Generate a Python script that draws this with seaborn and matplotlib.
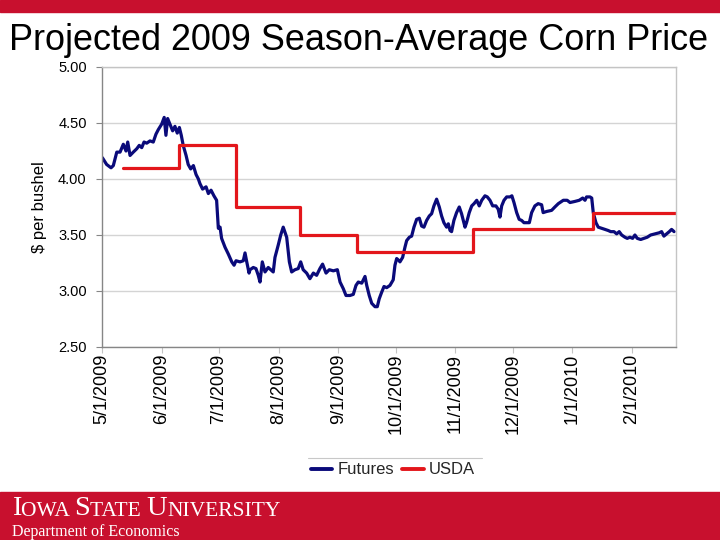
import matplotlib
matplotlib.use("Agg")
import matplotlib.pyplot as plt
import matplotlib.dates as mdates
from matplotlib.lines import Line2D
from matplotlib.patches import Rectangle
from matplotlib.ticker import FuncFormatter, MultipleLocator
import seaborn as sns
import numpy as np
import pandas as pd

# futures: days after 5/1/2009 and price ($/bu)
fut_days = [0.2, 2.4, 4.7, 5.9, 7.7, 9.4, 11.1, 12.5, 13.4, 14.6, 16.3, 18.1, 19.4, 20.7,
            21.9, 23.3, 25.0, 26.7, 28.1, 29.3, 31.1, 32.4, 33.3, 34.2, 35.4, 36.8, 38.0,
            39.2, 40.3, 41.3, 42.3, 43.8, 44.9, 46.2, 47.6, 49.0, 50.2, 51.0, 52.4, 54.2,
            55.4, 56.8, 58.3, 59.7, 60.6, 61.5, 62.3, 64.1, 65.8, 67.6, 68.8, 69.8, 71.9,
            73.6, 74.5, 75.4, 76.6, 77.1, 78.8, 80.2, 81.4, 82.3, 83.5, 84.9, 86.6, 87.9,
            89.2, 90.1, 91.8, 93.1, 94.4, 96.2, 97.6, 98.8, 100.5, 102.2, 103.5, 104.8,
            106.6, 108.3, 110.1, 111.8, 113.5, 114.9, 116.7, 118.4, 120.5, 122.6, 124.0,
            125.7, 127.1, 129.2, 130.9, 132.3, 133.5, 135.3, 137.0, 137.9, 139.2, 140.5,
            142.2, 143.4, 144.4, 145.7, 146.9, 148.3, 150.0, 151.7, 152.6, 153.5, 154.8,
            155.2, 156.6, 157.8, 158.7, 160.1, 161.3, 162.5, 163.9, 165.3, 166.5, 167.7,
            169.1, 170.5, 171.7, 172.9, 174.3, 175.7, 176.9, 178.1, 179.5, 180.4, 181.3,
            182.1, 183.3, 184.7, 186.1, 187.3, 188.2, 189.1, 189.9, 191.3, 192.6, 193.8,
            195.2, 196.5, 197.8, 199.5, 200.7, 202.1, 203.5, 205.2, 206.4, 207.3, 208.2,
            209.4, 210.8, 212.5, 213.5, 214.6, 216.0, 217.3, 218.6, 219.8, 221.2, 222.6,
            223.8, 225.5, 227.2, 229.0, 229.8, 231.6, 234.2, 235.9, 237.7, 240.3, 242.3,
            243.8, 246.4, 248.6, 250.4, 251.6, 252.4, 254.2, 255.1, 255.9, 257.3, 258.5,
            260.3, 262.0, 263.7, 265.0, 266.7, 268.1, 269.4, 270.7, 272.4, 273.6, 275.0,
            276.4, 277.6, 278.8, 280.6, 282.3, 284.0, 285.8, 288.0, 290.3, 291.5, 292.7,
            294.1, 295.5, 296.7, 298.0]
fut_price = [4.19, 4.13, 4.10, 4.12, 4.24, 4.24, 4.31, 4.25, 4.33, 4.21, 4.24, 4.27, 4.30, 4.28,
             4.33, 4.32, 4.34, 4.33, 4.40, 4.44, 4.49, 4.55, 4.39, 4.54, 4.49, 4.43, 4.47,
             4.41, 4.46, 4.39, 4.30, 4.21, 4.13, 4.09, 4.12, 4.04, 4.00, 3.96, 3.91, 3.93,
             3.87, 3.90, 3.85, 3.81, 3.56, 3.57, 3.47, 3.39, 3.33, 3.26, 3.23, 3.27, 3.26,
             3.27, 3.34, 3.26, 3.16, 3.19, 3.21, 3.20, 3.14, 3.08, 3.26, 3.17, 3.21, 3.19,
             3.17, 3.30, 3.41, 3.50, 3.57, 3.48, 3.26, 3.17, 3.19, 3.20, 3.26, 3.19,
             3.16, 3.11, 3.16, 3.14, 3.20, 3.24, 3.16, 3.19, 3.18, 3.19, 3.08,
             3.02, 2.96, 2.96, 2.97, 3.05, 3.08, 3.07, 3.13, 3.05, 2.96, 2.89,
             2.86, 2.86, 2.93, 2.99, 3.04, 3.03, 3.05, 3.10, 3.23, 3.29, 3.27,
             3.26, 3.30, 3.39, 3.45, 3.48, 3.49, 3.57, 3.64, 3.65, 3.58, 3.57,
             3.63, 3.67, 3.69, 3.76, 3.82, 3.75, 3.67, 3.61, 3.57, 3.60, 3.54,
             3.53, 3.63, 3.70, 3.75, 3.69, 3.63, 3.57, 3.61, 3.70, 3.76, 3.78,
             3.81, 3.76, 3.81, 3.85, 3.84, 3.81, 3.76, 3.76, 3.73, 3.66, 3.76,
             3.81, 3.84, 3.84, 3.85, 3.79, 3.70, 3.64, 3.63, 3.61, 3.61, 3.61,
             3.70, 3.76, 3.78, 3.77, 3.70, 3.71, 3.72, 3.75, 3.78, 3.81, 3.81,
             3.79, 3.80, 3.81, 3.83, 3.81, 3.84, 3.84, 3.83, 3.70, 3.61, 3.57,
             3.56, 3.55, 3.54, 3.53, 3.53, 3.51, 3.53, 3.50, 3.48, 3.47, 3.48,
             3.47, 3.50, 3.47, 3.46, 3.47, 3.48, 3.50, 3.51, 3.52, 3.53, 3.49,
             3.51, 3.53, 3.55, 3.53]

# USDA WASDE season-average price projections
usda_dates = ["2009-05-12", "2009-06-10", "2009-07-10", "2009-08-12", "2009-09-11",
              "2009-11-10", "2010-01-12", "2010-02-24"]
usda_price = [4.10, 4.30, 3.75, 3.50, 3.35, 3.55, 3.70, 3.70]

x_start = "2009-05-01"
x_end = "2010-02-24"

futures = pd.DataFrame({
    "date": pd.Timestamp(x_start) + pd.to_timedelta(fut_days, unit="D"),
    "price": fut_price,
})
usda = pd.DataFrame({"date": pd.to_datetime(usda_dates), "price": usda_price})

cardinal = "#C8102E"
navy = "#0A0A7A"
usda_red = "#E3161B"

sns.set_theme(style="white")
plt.rcParams["font.family"] = ["Liberation Sans", "DejaVu Sans"]

fig = plt.figure(figsize=(7.2, 5.4), dpi=100)
ax = fig.add_axes([102 / 720, 1 - 347 / 540, 574 / 720, 280 / 540])

sns.lineplot(data=futures, x="date", y="price", ax=ax, color=navy, linewidth=2.3)
sns.lineplot(data=usda, x="date", y="price", ax=ax, color=usda_red, linewidth=2.3,
             drawstyle="steps-post")

ax.set_xlim(pd.Timestamp(x_start), pd.Timestamp(x_end))
ax.set_ylim(2.5, 5.0)
ax.yaxis.set_major_locator(MultipleLocator(0.5))
ax.yaxis.set_major_formatter(FuncFormatter(lambda v, p: f"{v:.2f}"))
ax.xaxis.set_major_locator(mdates.MonthLocator(bymonthday=1))
ax.xaxis.set_major_formatter(FuncFormatter(
    lambda v, p: f"{mdates.num2date(v).month}/{mdates.num2date(v).day}/{mdates.num2date(v).year}"))

ax.grid(True, axis="y", color="#D4D4D4", linewidth=1.0)
ax.set_axisbelow(True)
for side in ["left", "bottom"]:
    ax.spines[side].set_color("#868686")
for side in ["top", "right"]:
    ax.spines[side].set_color("#C4C4C4")
for s in ax.spines.values():
    s.set_linewidth(1.0)

ax.tick_params(axis="y", left=True, length=4, width=0.8, color="#868686",
               labelsize=10.5, pad=7, labelcolor="black")
ax.tick_params(axis="x", bottom=True, length=4, width=0.8, color="#C4C4C4",
               labelsize=13, pad=1, labelrotation=90, labelcolor="black")

ax.set_xlabel("")
ax.set_ylabel("$ per bushel", fontsize=12, color="black")
ax.yaxis.set_label_coords(-0.096, 0.5)

handles = [Line2D([], [], color=navy, linewidth=2.8), Line2D([], [], color=usda_red, linewidth=2.8)]
fig.legend(handles, ["Futures", "USDA"], loc="center", bbox_to_anchor=(393 / 720, 1 - 470 / 540),
           ncol=2, frameon=False, fontsize=12, handlelength=1.3, handletextpad=0.3,
           columnspacing=0.5)
fig.add_artist(Line2D([308 / 720, 482 / 720], [1 - 458 / 540, 1 - 458 / 540],
                      color="#C8C8C8", linewidth=0.8))

# slide frame: red bands top and bottom
fig.add_artist(Rectangle((0, 1 - 12 / 540), 1, 12 / 540, transform=fig.transFigure,
                         color=cardinal, zorder=0))
fig.add_artist(Rectangle((0, 0), 1, 48 / 540, transform=fig.transFigure,
                         color=cardinal, zorder=0))

fig.text(359 / 720, 1 - 41 / 540, "Projected 2009 Season-Average Corn Price",
         ha="center", va="center", fontsize=25.9, color="black")

# small-caps wordmark built from pieces
serif = ["Liberation Serif", "DejaVu Serif"]
pieces = [("I", 20.5), ("OWA ", 15.5), ("S", 20.5), ("TATE ", 15.5), ("U", 20.5), ("NIVERSITY", 15.5)]
prev = fig.text(12 / 720, 1 - 515 / 540, pieces[0][0], fontsize=pieces[0][1],
                color="white", family=serif, ha="left", va="baseline")
for txt, size in pieces[1:]:
    prev = ax.annotate(txt, xy=(1, 0), xycoords=prev, xytext=(0, 0),
                       textcoords="offset points", ha="left", va="bottom",
                       fontsize=size, color="white", family=serif,
                       annotation_clip=False)
fig.text(12 / 720, 1 - 532 / 540, "Department of Economics", ha="left", va="center",
         fontsize=11.5, color="white", family=serif)

fig.savefig("out.png", dpi=100, facecolor="white")
